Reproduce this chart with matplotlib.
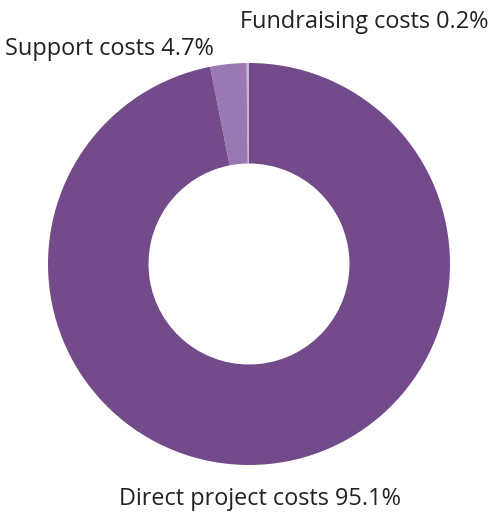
import matplotlib
matplotlib.use("Agg")
import matplotlib.pyplot as plt

categories = ["Fundraising costs", "Support costs", "Direct project costs"]
label_pct = [0.2, 4.7, 95.1]
slice_share = [0.2, 2.9, 96.9]  # drawn slice sizes
colors = ["#c9b3d6", "#9a78b1", "#734a8a"]

W, H = 492, 515
fig = plt.figure(figsize=(W / 100, H / 100), dpi=100)
cx, cy, r = 249, 264, 201
ax = fig.add_axes([(cx - r) / W, 1 - (cy + r) / H, 2 * r / W, 2 * r / H])
ax.pie(slice_share, colors=colors, startangle=90, counterclock=True,
       radius=1.0, wedgeprops=dict(width=0.5, linewidth=0))
ax.set_xlim(-1, 1)
ax.set_ylim(-1, 1)
ax.set_aspect("equal")
ax.axis("off")

font = "Open Sans"
fs = 16.9
pos = [(489, 28, "right"), (5, 55, "left"), (119, 505, "left")]
for (x, y, ha), c, p in zip(pos, categories, label_pct):
    fig.text(x / W, 1 - y / H, f"{c} {p}%", ha=ha, va="baseline",
             fontsize=fs, family=font, color="#222222")

fig.savefig("out.png", dpi=100)
